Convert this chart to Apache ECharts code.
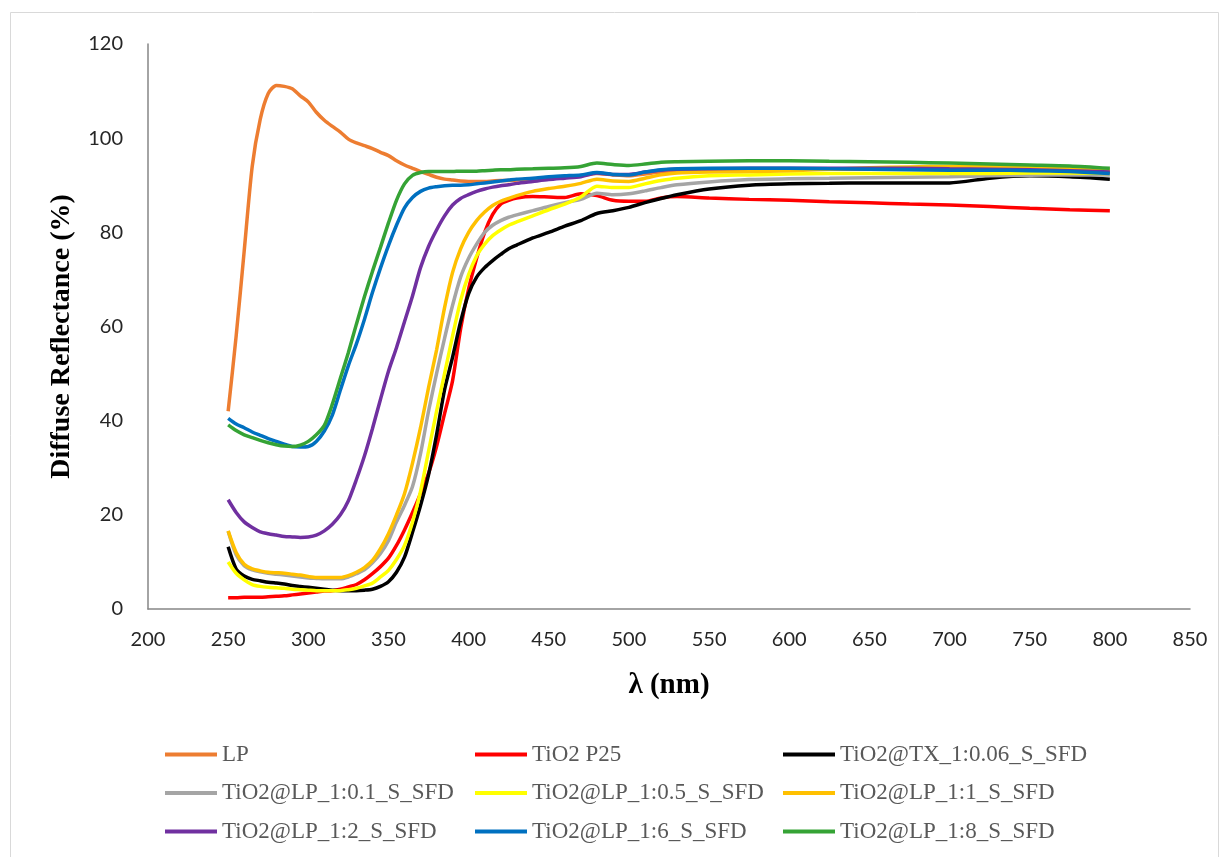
<!DOCTYPE html>
<html>
<head>
<meta charset="utf-8">
<script src="https://cdn.jsdelivr.net/npm/echarts@6/dist/echarts.min.js"></script>
<style>
html,body{margin:0;padding:0;background:#fff;}
#chart{width:1226px;height:857px;}
</style>
</head>
<body>
<div id="chart"></div>
<script>
// Wavelength grid (nm)
const wavelengths = [250,255,260,265,270,275,280,285,290,295,300,305,310,315,320,325,330,335,340,345,350,355,360,365,370,375,380,385,390,395,400,405,410,415,420,425,430,440,450,460,470,480,490,500,510,520,530,550,575,600,625,650,675,700,725,750,775,800];

const seriesNames = ["LP","TiO2 P25","TiO2@TX_1:0.06_S_SFD","TiO2@LP_1:0.1_S_SFD","TiO2@LP_1:0.5_S_SFD","TiO2@LP_1:1_S_SFD","TiO2@LP_1:2_S_SFD","TiO2@LP_1:6_S_SFD","TiO2@LP_1:8_S_SFD"];

const LP = [42,58,76,94,104,109.5,111.2,111,110.5,109,107.7,105.5,103.8,102.5,101.3,99.8,99,98.4,97.8,97,96.3,95.2,94.3,93.6,92.9,92.3,91.7,91.3,91.1,90.9,90.8,90.8,90.8,90.9,91,91,91.1,91.3,91.5,91.7,92,92.5,92.2,92,92.4,92.8,93,93.2,93.3,93.4,93.4,93.4,93.4,93.3,93.2,93.1,93,92.8];

const P25 = [2.4,2.4,2.5,2.5,2.5,2.6,2.7,2.8,3.0,3.2,3.4,3.6,3.8,3.9,4.2,4.7,5.2,6.2,7.5,9.0,10.8,13.5,16.8,20.5,24.5,28.8,34.5,41.5,48.5,59.5,68,74.5,80,83.8,86,86.8,87.3,87.6,87.5,87.4,88.2,87.8,86.8,86.6,86.6,87.3,87.6,87.3,87,86.8,86.5,86.3,86,85.8,85.5,85.1,84.8,84.6];

const TX = [13.2,8.5,7.0,6.3,6.0,5.7,5.5,5.3,5.0,4.8,4.6,4.4,4.2,4.0,3.9,3.9,3.9,4.0,4.2,4.8,5.8,7.8,11,16.3,22,28.5,37,46.6,53.5,61,67,70.5,72.5,74,75.3,76.5,77.3,78.8,80,81.3,82.5,84,84.6,85.3,86.3,87.2,88,89.2,90,90.3,90.4,90.5,90.5,90.5,91.5,92,91.8,91.3];

const LP01 = [16.5,11.5,9.2,8.3,7.9,7.6,7.4,7.2,7.0,6.8,6.6,6.5,6.4,6.4,6.4,6.8,7.5,8.3,9.8,11.8,14.5,18.5,22,26,33,42,50,57.5,64.5,70.5,74.5,77.5,80,81.5,82.5,83.2,83.7,84.6,85.5,86.3,87,88.3,88,88.2,88.8,89.5,90.1,90.7,91.2,91.4,91.5,91.6,91.7,91.8,92,92.1,92.2,92.2];

const LP05 = [10,7.6,6.2,5.2,4.8,4.6,4.5,4.4,4.2,4.1,4.0,3.9,3.9,3.9,3.9,4.1,4.4,4.9,5.5,6.8,8.2,10.5,13.5,18.5,25,33.5,42,50,58,65.5,71,75,77.5,79.3,80.5,81.5,82.2,83.5,84.8,86,87.5,89.8,89.5,89.5,90.3,91,91.5,92,92.2,92.4,92.5,92.5,92.5,92.5,92.5,92.6,92.6,92.5];

const LP1 = [16.6,12,9.5,8.5,8.1,7.8,7.7,7.6,7.4,7.2,6.9,6.7,6.7,6.7,6.7,7.1,7.8,8.8,10.3,12.8,16,20,24.5,31,38.5,47,55,64,71.5,76.5,80,82.5,84.3,85.7,86.6,87.2,87.8,88.7,89.3,89.8,90.4,91.3,90.9,90.8,91.5,92.2,92.6,92.8,92.9,93.1,93.4,93.7,93.9,94,94,93.9,93.7,93.3];

const LP2 = [23.2,20.5,18.5,17.3,16.4,16,15.7,15.4,15.3,15.2,15.3,15.7,16.6,18,20,23,27.5,32.5,38.3,44.5,50.5,55.5,61,66.5,72.5,77,80.5,83.5,85.8,87.2,88,88.7,89.2,89.6,89.9,90.1,90.4,90.8,91.2,91.5,91.8,92.6,92.3,92.3,92.8,93.2,93.4,93.5,93.6,93.6,93.6,93.6,93.6,93.5,93.4,93.3,93.1,92.8];

const LP6 = [40.5,39.3,38.5,37.6,36.9,36.2,35.6,35,34.5,34.4,34.5,35.6,37.8,41.2,46.5,51.7,56.3,61.5,67.2,72.4,77.2,81.5,85.2,87.4,88.7,89.4,89.7,89.9,90,90,90.1,90.3,90.5,90.7,90.9,91.1,91.3,91.5,91.8,92,92.2,92.7,92.3,92.2,92.8,93.3,93.5,93.6,93.6,93.6,93.5,93.4,93.3,93.2,93.2,93.1,92.9,92.5];

const LP8 = [39.1,37.9,37,36.4,35.8,35.3,34.9,34.6,34.5,34.8,35.6,37,39,43.5,49,54.5,60.5,66.3,71.7,76.8,82,86.8,90.3,92.1,92.7,92.9,92.9,92.9,92.9,93,93,93,93.1,93.2,93.3,93.3,93.4,93.5,93.6,93.7,94.0,94.7,94.4,94.2,94.5,94.9,95,95.1,95.2,95.2,95.1,95,94.9,94.7,94.5,94.3,94.1,93.6];

const xTicks = [200,250,300,350,400,450,500,550,600,650,700,750,800,850];
const yTicks = [0,20,40,60,80,100,120];

const colors = ["#ED7D31","#FF0000","#000000","#A5A5A5","#FFFF00","#FFC000","#7030A0","#0070C0","#35A335"];
const values = [LP,P25,TX,LP01,LP05,LP1,LP2,LP6,LP8];

const chart = echarts.init(document.getElementById('chart'), null, {renderer:'canvas'});

const series = seriesNames.map((name,i)=>({
  name: name,
  type: 'line',
  data: wavelengths.map((w,k)=>[w, values[i][k]]),
  showSymbol: false,
  symbol: 'none',
  smooth: 0.25,
  lineStyle: {color: colors[i], width: 3.5},
  itemStyle: {color: colors[i]},
  z: 2 + i,
  animation: false
}));

const legendText = {fontFamily: '"Liberation Serif","Times New Roman",serif', fontSize: 23, color: '#595959'};
const cols = [[0,3,6],[1,4,7],[2,5,8]];
const colLeft = [165, 475, 783];
const legends = cols.map((c,j)=>({
  data: c.map(i=>seriesNames[i]),
  orient: 'vertical',
  left: colLeft[j],
  top: 743,
  itemWidth: 52,
  itemHeight: 20,
  itemGap: 15.5,
  icon: 'path://M0,8 L52,8 L52,12 L0,12 Z',
  textStyle: legendText,
  selectedMode: false,
  padding: 0
}));

chart.setOption({
  backgroundColor: '#ffffff',
  animation: false,
  graphic: [{
    type: 'rect',
    shape: {x: 10.5, y: 12.5, width: 1208, height: 860},
    style: {fill: 'none', stroke: '#d9d9d9', lineWidth: 1},
    silent: true
  }],
  grid: {left: 148, top: 44, right: 36, bottom: 248, containLabel: false},
  xAxis: {
    type: 'value',
    min: xTicks[0],
    max: xTicks[xTicks.length-1],
    interval: 50,
    name: 'λ (nm)',
    nameLocation: 'middle',
    nameGap: 62,
    nameTextStyle: {fontFamily: '"Liberation Serif","Times New Roman",serif', fontWeight: 'bold', fontSize: 29, color: '#000'},
    axisLine: {show: true, lineStyle: {color: '#868686', width: 1.5}},
    axisTick: {show: false},
    splitLine: {show: false},
    axisLabel: {margin: 21, fontFamily: 'Lato, "Open Sans", sans-serif', fontSize: 20, color: '#262626'}
  },
  yAxis: {
    type: 'value',
    min: yTicks[0],
    max: yTicks[yTicks.length-1],
    interval: 20,
    name: 'Diffuse Reflectance (%)',
    nameLocation: 'middle',
    nameGap: 72,
    nameRotate: 90,
    nameTextStyle: {fontFamily: '"Liberation Serif","Times New Roman",serif', fontWeight: 'bold', fontSize: 28, color: '#000', padding: [0, 20, 0, 0]},
    axisLine: {show: true, lineStyle: {color: '#868686', width: 1.5}},
    axisTick: {show: false},
    splitLine: {show: false},
    axisLabel: {margin: 25, fontFamily: 'Lato, "Open Sans", sans-serif', fontSize: 20, color: '#262626'}
  },
  legend: legends,
  series: series
});
</script>
</body>
</html>
